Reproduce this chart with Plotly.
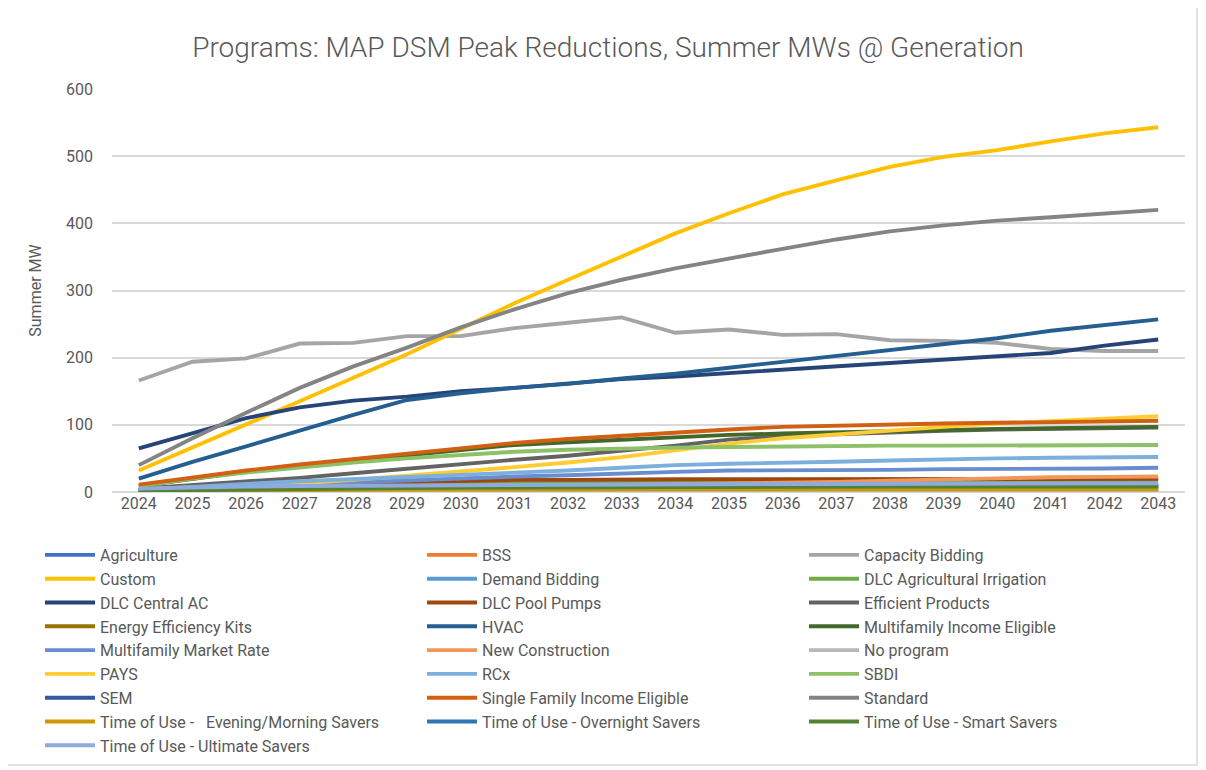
import plotly.graph_objects as go

years = list(range(2024, 2044))

series_names = [
    "Agriculture", "BSS", "Capacity Bidding", "Custom", "Demand Bidding",
    "DLC Agricultural Irrigation", "DLC Central AC", "DLC Pool Pumps",
    "Efficient Products", "Energy Efficiency Kits", "HVAC",
    "Multifamily Income Eligible", "Multifamily Market Rate", "New Construction",
    "No program", "PAYS", "RCx", "SBDI", "SEM", "Single Family Income Eligible",
    "Standard", "Time of Use -   Evening/Morning Savers",
    "Time of Use - Overnight Savers", "Time of Use - Smart Savers",
    "Time of Use - Ultimate Savers",
]

agriculture = [0.5, 0.8, 1, 1.2, 1.4, 1.6, 1.8, 2, 2.1, 2.2, 2.3, 2.4, 2.5, 2.6, 2.7, 2.8, 2.9, 3, 3, 3.1]
bss = [0.5, 1.5, 2.5, 4, 5, 6.5, 8, 9, 10.5, 12, 13, 14, 15, 16, 17, 18, 18.5, 19, 19.5, 20]
capacity_bidding = [166, 194, 199, 221, 222, 232, 232, 244, 252, 260, 237, 242, 234, 235, 226, 225, 222, 213, 210, 210]
custom = [32, 66, 100, 135, 170, 205, 243, 281, 316, 351, 385, 415, 443, 464, 484, 499, 509, 522, 534, 543]
demand_bidding = [1, 2, 3, 3.5, 4, 4.5, 5, 5.5, 6, 6.5, 7, 7, 7.5, 7.5, 8, 8, 8, 8.5, 8.5, 8.5]
dlc_ag_irrigation = [3, 5, 7, 9, 11, 12, 13, 14, 14.5, 15, 15, 15.5, 15.5, 16, 16, 16, 16, 16, 16, 16]
dlc_central_ac = [65, 88, 110, 126, 136, 142, 150, 155, 161, 168, 172, 177, 181, 186, 191, 196, 201, 207, 218, 227]
dlc_pool_pumps = [2, 5, 8, 11, 13, 15, 17, 18, 18, 19, 19, 19, 19, 19, 19, 19, 19.5, 19.5, 19.5, 19.5]
efficient_products = [5, 10, 15, 21, 28, 35, 41, 48, 54, 61, 69, 78, 83, 86, 89, 91, 93, 94, 95, 96]
ee_kits = [0.5, 0.8, 1, 1.2, 1.4, 1.5, 1.6, 1.7, 1.8, 1.9, 2, 2, 2.1, 2.1, 2.2, 2.2, 2.3, 2.3, 2.4, 2.4]
hvac = [20, 45, 68, 92, 115, 137, 147, 155, 161, 169, 176, 185, 194, 203, 212, 220, 229, 240, 249, 257]
mf_income_eligible = [9, 20, 30, 39, 47, 55, 63, 70, 74, 78, 82, 85, 87, 89, 91, 92, 94, 95, 96, 97]
mf_market_rate = [3, 6, 9, 12, 15, 18, 21, 23, 25, 28, 30, 32, 32, 33, 33, 34, 34, 35, 35, 36]
new_construction = [1, 2, 3, 4, 5, 6, 7, 8, 9, 10, 11, 12, 13, 15, 17, 19, 21, 22, 22.5, 23]
no_program = [0.3, 0.3, 0.3, 0.3, 0.3, 0.3, 0.3, 0.3, 0.3, 0.3, 0.3, 0.3, 0.3, 0.3, 0.3, 0.3, 0.3, 0.3, 0.3, 0.3]
pays = [4, 7, 10, 13, 18, 24, 30, 37, 44, 52, 62, 72, 80, 86, 92, 97, 102, 106, 110, 113]
rcx = [3, 8, 12, 16, 19, 22, 25, 29, 32, 36, 40, 42, 43, 45, 47, 49, 50, 51, 51, 52]
sbdi = [9, 20, 29, 37, 44, 50, 55, 60, 63, 65, 66, 67, 68, 68, 69, 69, 69, 70, 70, 70]
sem = [1, 2, 3, 4, 5, 6, 6.5, 7, 7.5, 8, 8, 8.5, 8.5, 9, 9, 9, 9.5, 9.5, 9.5, 10]
sf_income_eligible = [11, 22, 32, 41, 49, 57, 66, 73, 79, 84, 89, 93, 97, 99, 101, 102, 103, 104, 105, 106]
standard = [40, 80, 118, 155, 187, 215, 245, 272, 296, 316, 333, 348, 362, 376, 388, 397, 404, 409, 414, 420]
tou_evening_morning = [2, 2.5, 3, 3, 3.5, 3.5, 3.5, 4, 4, 4, 4, 4, 4, 4, 4, 4, 4, 4, 4, 4]
tou_overnight = [3, 4, 5, 6, 6.5, 7, 7.5, 8, 8, 8, 8.5, 8.5, 8.5, 9, 9, 9, 9, 9, 9, 9]
tou_smart = [2, 3, 4, 5, 5.5, 6, 6.5, 7, 7, 7.5, 7.5, 7.5, 8, 8, 8, 8, 8, 8, 8, 8]
tou_ultimate = [5, 7, 8, 9, 9, 10, 10, 10.5, 11, 11, 11.5, 11.5, 12, 12, 12, 12.5, 12.5, 12.5, 13, 13]

series_values = [
    agriculture, bss, capacity_bidding, custom, demand_bidding, dlc_ag_irrigation,
    dlc_central_ac, dlc_pool_pumps, efficient_products, ee_kits, hvac,
    mf_income_eligible, mf_market_rate, new_construction, no_program, pays, rcx,
    sbdi, sem, sf_income_eligible, standard, tou_evening_morning, tou_overnight,
    tou_smart, tou_ultimate,
]

colors = [
    "#4472C4", "#ED7D31", "#A5A5A5", "#FFC000", "#5B9BD5", "#70AD47",
    "#264478", "#9E480E", "#636363", "#997300", "#255E91", "#43682B",
    "#698ED0", "#F1975A", "#B7B7B7", "#FFCD33", "#7CAFDD", "#8CC168",
    "#335AA1", "#D26012", "#848484", "#CC9A00", "#2E75B6", "#548235",
    "#8FAADC",
]

FONT = "Liberation Sans Narrow, Roboto, sans-serif"
TXT = "#595959"

fig = go.Figure()
for name, vals, col in zip(series_names, series_values, colors):
    fig.add_trace(go.Scatter(
        x=years, y=vals, name=name, mode="lines",
        line=dict(color=col, width=3.9),
    ))

# page body has an 8px margin; work in page pixels and subtract it
OFF = 8
W, H = 1206 - OFF, 770 - OFF
ml = 112 - OFF
mt = 89 - OFF
mr = W - (1185 - OFF)
mb = H - (492 - OFF)
pw, ph = W - ml - mr, H - mt - mb

def px_x(x):
    return (x - OFF - ml) / pw

def px_y(y):
    return (H - mb - (y - OFF)) / ph

fig.update_layout(
    width=W, height=H,
    margin=dict(l=ml, r=mr, t=mt, b=mb, autoexpand=False),
    paper_bgcolor="white", plot_bgcolor="white",
    font=dict(family=FONT, color=TXT, size=16),
    title=dict(
        text="Programs: MAP DSM Peak Reductions, Summer MWs @ Generation",
        x=px_x(608), xanchor="center", xref="paper",
        y=1 - (47 - OFF) / H, yanchor="middle",
        font=dict(family=FONT, size=28, color=TXT, weight=300),
    ),
    xaxis=dict(
        range=[2023.5, 2043.5], tickmode="linear", dtick=1, tick0=2024,
        showgrid=False, zeroline=False, showline=False,
        tickfont=dict(size=16, color=TXT), ticks="",
    ),
    yaxis=dict(
        range=[0, 600], tickmode="linear", dtick=100,
        showgrid=True, gridcolor="#D9D9D9", gridwidth=1.5,
        zeroline=True, zerolinecolor="#D9D9D9", zerolinewidth=1.5,
        tickfont=dict(size=16, color=TXT), ticks="", ticklabelstandoff=18,
        title=dict(text="Summer MW", font=dict(size=16, color=TXT), standoff=20),
    ),
    legend=dict(
        orientation="h", x=px_x(40), xanchor="left", y=px_y(538), yanchor="top",
        entrywidth=317, entrywidthmode="pixels", tracegroupgap=0,
        font=dict(size=16, color=TXT), itemwidth=50,
        bgcolor="rgba(0,0,0,0)",
    ),
    shapes=[dict(
        type="rect", xref="paper", yref="paper",
        x0=px_x(3), x1=px_x(1197), y0=px_y(765), y1=px_y(6),
        line=dict(color="#D9D9D9", width=1.5), fillcolor="rgba(0,0,0,0)",
        layer="below",
    )],
    showlegend=True,
)

fig.write_html("out.html")
